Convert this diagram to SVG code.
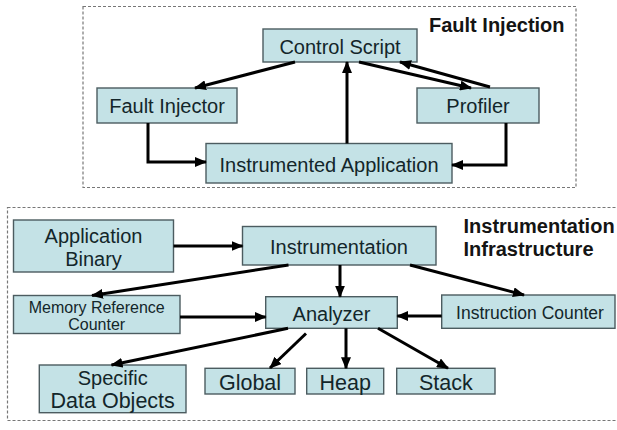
<svg xmlns="http://www.w3.org/2000/svg" width="617" height="430" viewBox="0 0 617 430">
  <style>
    .frame { fill: none; stroke: #777777; stroke-width: 1.2; stroke-dasharray: 3 2; }
    .box rect { fill: #c4e2e6; stroke: #4c5c60; stroke-width: 1.4; }
    .box text { font-family: "Liberation Sans", Arial, sans-serif; font-size: 20px; fill: #13262a; text-anchor: middle; }
    .box text.small { font-size: 16px; }
    .box text.mid { font-size: 17.5px; }
    .box text.big { font-size: 21.5px; }
    .title { font-family: "Liberation Sans", Arial, sans-serif; font-size: 20px; font-weight: bold; fill: #141414; }
    .edge { fill: none; stroke: #000; stroke-width: 3; marker-end: url(#arrow); }
  </style>
  <defs>
    <marker id="arrow" viewBox="0 0 12 10" refX="11" refY="5" markerWidth="12" markerHeight="10" markerUnits="userSpaceOnUse" orient="auto">
      <path d="M0,0 L12,5 L0,10 z" fill="#000"/>
    </marker>
  </defs>
  <rect width="617" height="430" fill="#ffffff"/>

  <!-- Fault injection section -->
  <g id="fault-injection-frame">
    <rect class="frame" x="83" y="6.5" width="493" height="181"/>
    <text class="title" x="429" y="32">Fault Injection</text>
  </g>
  <g id="control-script" class="box">
    <rect x="263" y="29" width="154" height="33"/>
    <text x="340" y="54">Control Script</text>
  </g>
  <g id="fault-injector" class="box">
    <rect x="97" y="88" width="140" height="35"/>
    <text x="167" y="113">Fault Injector</text>
  </g>
  <g id="profiler" class="box">
    <rect x="417" y="88" width="122" height="35"/>
    <text x="478" y="113">Profiler</text>
  </g>
  <g id="instrumented-application" class="box">
    <rect x="206" y="143.5" width="246" height="39.5"/>
    <text x="329" y="172">Instrumented Application</text>
  </g>

  <!-- Instrumentation infrastructure section -->
  <g id="instrumentation-frame">
    <rect class="frame" x="7.5" y="207.5" width="620" height="213"/>
    <text class="title" x="463.5" y="232.5">Instrumentation</text>
    <text class="title" x="463.5" y="256">Infrastructure</text>
  </g>
  <g id="application-binary" class="box">
    <rect x="13.5" y="220" width="160" height="52"/>
    <text x="93.5" y="243">Application</text>
    <text x="93.5" y="266">Binary</text>
  </g>
  <g id="instrumentation" class="box">
    <rect x="242.5" y="226.5" width="193.5" height="38.5"/>
    <text x="339" y="254">Instrumentation</text>
  </g>
  <g id="memory-reference-counter" class="box">
    <rect x="13.5" y="295.5" width="166.5" height="38"/>
    <text class="small" x="96.7" y="312.5">Memory Reference</text>
    <text class="small" x="96.7" y="329.5">Counter</text>
  </g>
  <g id="analyzer" class="box">
    <rect x="265.7" y="296.7" width="131.6" height="31.6"/>
    <text x="331.5" y="321">Analyzer</text>
  </g>
  <g id="instruction-counter" class="box">
    <rect x="441.7" y="295" width="173.3" height="33.3"/>
    <text class="mid" x="530" y="319">Instruction Counter</text>
  </g>
  <g id="specific-data-objects" class="box">
    <rect x="39.3" y="365" width="146.7" height="47.7"/>
    <text x="112.7" y="385">Specific</text>
    <text class="big" x="112.7" y="407.5">Data Objects</text>
  </g>
  <g id="global" class="box">
    <rect x="205" y="368.3" width="90" height="25.7"/>
    <text class="big" x="250" y="389.5">Global</text>
  </g>
  <g id="heap" class="box">
    <rect x="306.7" y="368.3" width="77" height="25.7"/>
    <text class="big" x="345.2" y="389.5">Heap</text>
  </g>
  <g id="stack" class="box">
    <rect x="396.7" y="368.3" width="98.3" height="25.7"/>
    <text class="big" x="445.8" y="389.5">Stack</text>
  </g>

  <!-- Connectors -->
  <g id="connectors">
    <path class="edge" d="M295,62 L195,88"/>
    <path class="edge" d="M347,143.5 L347,62"/>
    <path class="edge" d="M359,62 L471,88"/>
    <path class="edge" d="M490,87 L400,62"/>
    <path class="edge" d="M148,123 V162 H206"/>
    <path class="edge" d="M506,123 V165 H452"/>

    <path class="edge" d="M173.5,246 H242.5"/>
    <path class="edge" d="M288.5,265 L92,295.5"/>
    <path class="edge" d="M340,265 V296.7"/>
    <path class="edge" d="M410,265 L524,295"/>
    <path class="edge" d="M180,317 H265.7"/>
    <path class="edge" d="M441.7,316 H397.3"/>
    <path class="edge" d="M288,328.3 L111.5,365"/>
    <path class="edge" d="M306,333.5 L270,368"/>
    <path class="edge" d="M346,328.3 V368.3"/>
    <path class="edge" d="M378,328.3 L448,368.3"/>
  </g>
</svg>
